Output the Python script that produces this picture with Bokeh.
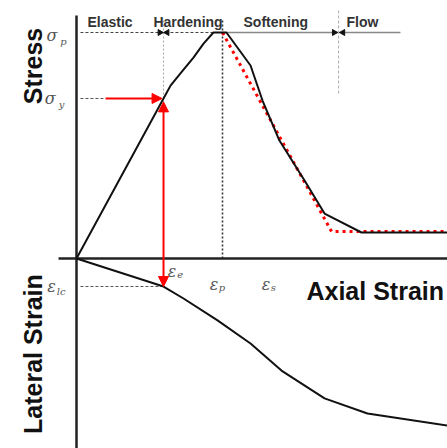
import math
from bokeh.plotting import figure
from bokeh.models import Range1d, Arrow, NormalHead
from bokeh.core.properties import value
from bokeh.embed import file_html
from bokeh.resources import INLINE

# ---------------- data (normalised: axial strain / eps_p, stress / sigma_p) ----------------
stress_axial_strain = [0.0, 0.596, 0.644, 0.712, 0.801, 0.870, 0.938, 1.027, 1.192, 1.274, 1.390, 1.562, 1.699, 1.952, 2.541]
stress_values       = [0.0, 0.708, 0.765, 0.819, 0.889, 0.951, 1.000, 1.000, 0.854, 0.699, 0.522, 0.345, 0.199, 0.115, 0.115]

model_axial_strain  = [1.0, 1.747, 2.541]
model_stress        = [1.0, 0.119, 0.119]

lateral_axial_strain = [0.0, 0.596, 0.733, 0.966, 1.192, 1.404, 1.699, 1.993, 2.541]
lateral_strain       = [0.0, -0.124, -0.177, -0.274, -0.376, -0.496, -0.619, -0.686, -0.739]

eps_e, eps_p, eps_s = 0.596, 1.0, 1.747
sig_y, sig_p = 0.708, 1.0
eps_lc = -0.124
flow_start = 1.795

phase_names = ["Elastic", "Hardening", "Softening", "Flow"]
phase_label_x = [0.075, 0.527, 1.144, 1.849]

# ---------------- figure ----------------
XR = (-76 / 146, 371 / 146)
YR = (-190 / 226, 258 / 226)
p = figure(width=447, height=448, x_range=Range1d(*XR), y_range=Range1d(*YR),
           output_backend="svg", toolbar_location=None, min_border=0,
           x_axis_type=None, y_axis_type=None)
p.grid.visible = False
p.outline_line_color = None
p.background_fill_color = "white"
p.border_fill_color = "white"

# reference / guide lines
p.line([0.027, 0.938], [sig_p, sig_p], line_color="#444444", line_width=1.2, line_dash="3 2")
p.line([1.027, 2.219], [sig_p, sig_p], line_color="#888888", line_width=1.5)
p.line([0.027, 0.199], [sig_y, sig_y], line_color="#555555", line_width=1.2, line_dash="3 2")
p.line([0.027, eps_e], [eps_lc, eps_lc], line_color="#555555", line_width=1.2, line_dash="3 2")
p.line([eps_e, eps_e], [0, 1.053], line_color="#aaaaaa", line_width=1, line_dash="2 2")
p.line([eps_p, eps_p], [0, 1.053], line_color="#333333", line_width=1.6, line_dash="2 2")
p.line([flow_start, flow_start], [0.73, 1.097], line_color="#aaaaaa", line_width=1, line_dash="3 2")

# phase boundary arrowheads
p.scatter([eps_e - 0.025, eps_e + 0.025, flow_start - 0.03, flow_start + 0.03], [sig_p] * 4,
          marker="triangle", angle=[-math.pi / 2, math.pi / 2, -math.pi / 2, math.pi / 2],
          size=6, color="#111111")

# axes
p.line([0, 0], [YR[0], 1.075], line_color="#222222", line_width=2.5)
p.line([-0.123, XR[1]], [0, 0], line_color="#222222", line_width=2.5)

# curves
p.line(model_axial_strain, model_stress, line_color="red", line_width=3, line_dash="3 4")
p.line(stress_axial_strain, stress_values, line_color="#111111", line_width=2)
p.line(lateral_axial_strain, lateral_strain, line_color="#111111", line_width=2)

# red arrows
p.add_layout(Arrow(end=NormalHead(size=10, fill_color="red", line_color="red"),
                   x_start=0.199, y_start=sig_y, x_end=eps_e - 0.01, y_end=sig_y,
                   line_color="red", line_width=2))
p.add_layout(Arrow(start=NormalHead(size=10, fill_color="red", line_color="red"),
                   end=NormalHead(size=10, fill_color="red", line_color="red"),
                   x_start=eps_e, y_start=sig_y - 0.015, x_end=eps_e, y_end=eps_lc,
                   line_color="red", line_width=2))

# phase labels
p.text(x=phase_label_x, y=[1.046] * 4, text=phase_names,
       text_font=value("Liberation Sans"), text_font_style="bold", text_font_size="14px",
       text_color="#333333", text_align="left", text_baseline="alphabetic")

# axis titles
p.text(x=[-0.295, -0.295], y=[0.852, -0.423], text=["Stress", "Lateral Strain"],
       angle=[math.pi / 2, math.pi / 2],
       text_font=value("Liberation Sans"), text_font_style="bold", text_font_size="25px",
       text_color="#111111", text_align="center", text_baseline="alphabetic")
p.text(x=[1.575], y=[-0.146], text=["Axial Strain"],
       text_font=value("Liberation Sans"), text_font_style="bold", text_font_size="25px",
       text_color="#111111", text_align="left", text_baseline="alphabetic")

# symbol labels
p.text(x=[-0.205, -0.218, -0.200, 0.625, 0.912, 1.268],
       y=[sig_p - 0.015, sig_y, eps_lc, -0.058, -0.115, -0.115],
       text=["σ", "σ", "ε", "ε", "ε", "ε"],
       text_font=value("DejaVu Serif"), text_font_style="italic", text_font_size="16px",
       text_color="#555555", text_align="left", text_baseline="middle")
p.text(x=[-0.112, -0.122, -0.135, 0.690, 0.975, 1.330],
       y=[sig_p - 0.04, sig_y - 0.025, eps_lc - 0.022, -0.072, -0.13, -0.13],
       text=["p", "y", "lc", "e", "p", "s"],
       text_font=value("DejaVu Serif"), text_font_style="italic", text_font_size="10px",
       text_color="#555555", text_align="left", text_baseline="middle")

open("out.html", "w").write(file_html(p, INLINE))
